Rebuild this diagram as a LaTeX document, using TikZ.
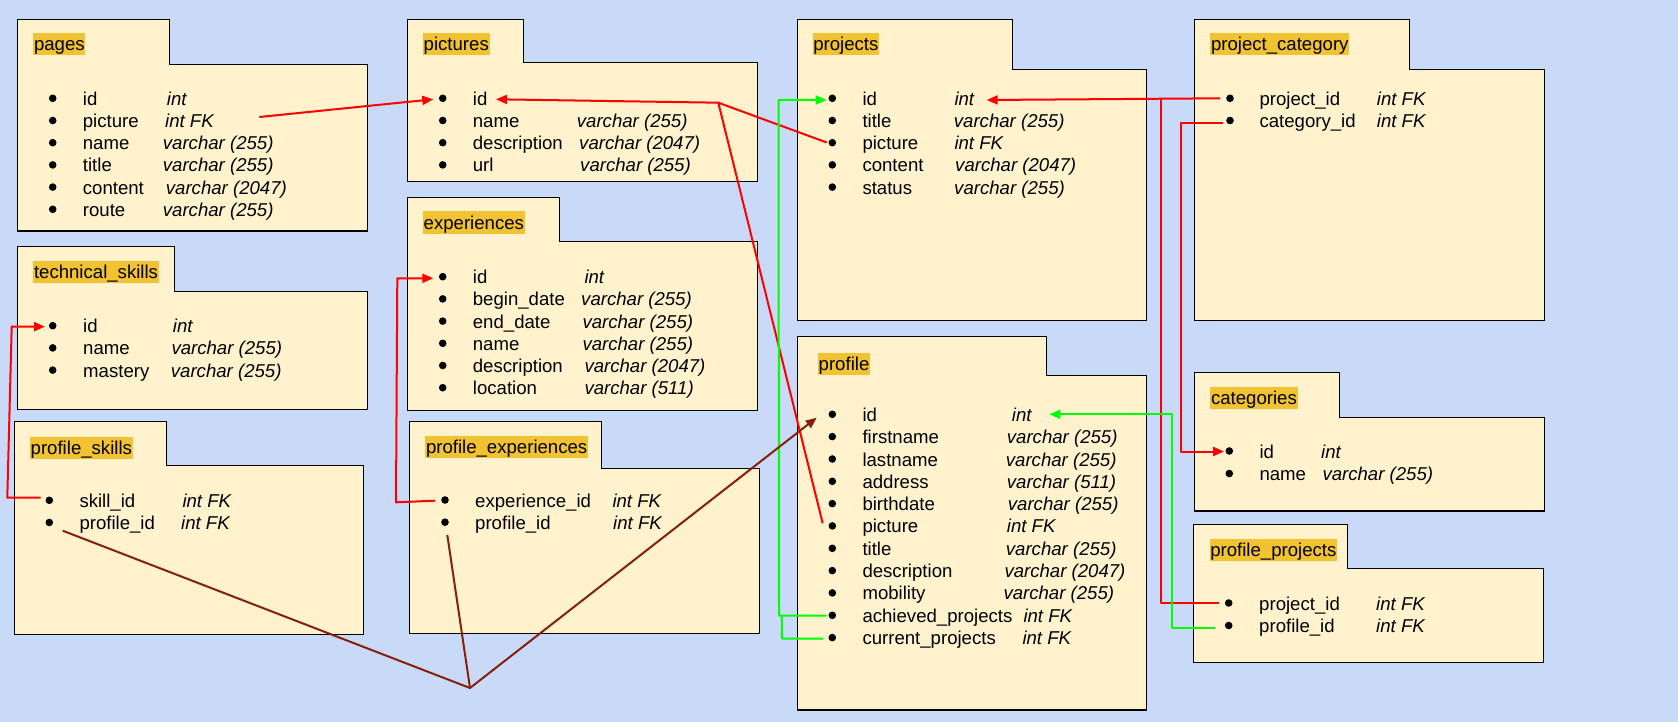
\documentclass[tikz,border=0pt]{standalone}
\usepackage{fontspec}
\setmainfont{Liberation Sans}
\usetikzlibrary{arrows.meta}

\definecolor{bgblue}{HTML}{C9DAF8}
\definecolor{boxfill}{HTML}{FFF2CC}
\definecolor{titlehl}{HTML}{F1C232}
\definecolor{fkred}{HTML}{FF0000}
\definecolor{fkgreen}{HTML}{00FF00}
\definecolor{fkbrown}{HTML}{85200C}

\newcommand{\dbfont}{\fontsize{18.6pt}{22pt}\selectfont}

% folder-shaped table outline: left, top, tab right, tab bottom, right, bottom
\newcommand{\dbtable}[6]{%
  \draw[tablebox] (#1,#2) -- (#3,#2) -- (#3,#4) -- (#5,#4) -- (#5,#6) -- (#1,#6) -- cycle;}
% one column line: name, bullet x, text x, centre y, column, type x, type
\newcommand{\dbrow}[7]{%
  \fill (#2,#4) circle[radius=3.8pt];
  \coordinate (#1) at (#2,#4);
  \node[fieldname] (#1-n) at (#3,#4+7) {#5};
  \node[fieldtype] (#1-t) at (#6,#4+7) {#7};}
% column line without a type
\newcommand{\dbrowbare}[5]{%
  \fill (#2,#4) circle[radius=3.8pt];
  \coordinate (#1) at (#2,#4);
  \node[fieldname] (#1-n) at (#3,#4+7) {#5};}

\tikzset{
  tablebox/.style={draw=black, fill=boxfill, line width=1.3pt, line join=miter},
  tabletitle/.style={anchor=north west, fill=titlehl, inner xsep=0.8pt, inner ysep=0pt,
    text height=17.8pt, text depth=4.2pt, font=\dbfont},
  fieldname/.style={anchor=base west, inner sep=0pt, font=\dbfont},
  fieldtype/.style={anchor=base west, inner sep=0pt, font=\dbfont\itshape},
  link/.style={line width=2pt, line join=round},
  redlink/.style={link, draw=fkred},
  greenlink/.style={link, draw=fkgreen},
  brownlink/.style={link, draw=fkbrown},
  tip/.style={-{Triangle[length=11pt,width=9pt]}},
}

\begin{document}
\begin{tikzpicture}[x=1pt, y=-1pt]
\fill[bgblue] (0,0) rectangle (1678,722);
\useasboundingbox (0,0) rectangle (1678,722);

% ---------------- pages
\dbtable{17.3}{19.3}{169.3}{64.3}{367.7}{231}
\node[tabletitle] (t-pages) at (33,33) {pages};
\dbrow{pg-id}{52.7}{82.7}{98.3}{id}{166.7}{int}
\dbrow{pg-picture}{52.7}{82.7}{120.5}{picture}{165}{int FK}
\dbrow{pg-name}{52.7}{82.7}{142.7}{name}{162.7}{varchar (255)}
\dbrow{pg-title}{52.7}{82.7}{164.9}{title}{162.7}{varchar (255)}
\dbrow{pg-content}{52.7}{82.7}{187.1}{content}{165.7}{varchar (2047)}
\dbrow{pg-route}{52.7}{82.7}{209.3}{route}{162.7}{varchar (255)}

% ---------------- pictures
\dbtable{407.3}{19.3}{523.3}{62.3}{757.7}{181.3}
\node[tabletitle] (t-pictures) at (422.7,33) {pictures};
\dbrowbare{pc-id}{442.7}{472.7}{98.3}{id}
\dbrow{pc-name}{442.7}{472.7}{120.5}{name}{576.7}{varchar (255)}
\dbrow{pc-desc}{442.7}{472.7}{142.7}{description}{579}{varchar (2047)}
\dbrow{pc-url}{442.7}{472.7}{164.9}{url}{580}{varchar (255)}

% ---------------- projects
\dbtable{797.3}{19.3}{1012.3}{69.3}{1146.7}{320.3}
\node[tabletitle] (t-projects) at (812.3,33) {projects};
\dbrow{pj-id}{832.3}{862.3}{98.3}{id}{954.3}{int}
\dbrow{pj-title}{832.3}{862.3}{120.5}{title}{953.7}{varchar (255)}
\dbrow{pj-picture}{832.3}{862.3}{142.7}{picture}{954.3}{int FK}
\dbrow{pj-content}{832.3}{862.3}{164.9}{content}{955}{varchar (2047)}
\dbrow{pj-status}{832.3}{862.3}{187.1}{status}{954}{varchar (255)}

% ---------------- project_category
\dbtable{1194.3}{19.3}{1409.3}{69.3}{1544.7}{320.3}
\node[tabletitle] (t-projcat) at (1210,33) {project\_category};
\dbrow{pc2-project}{1230}{1259.3}{98.3}{project\_id}{1376.7}{int FK}
\dbrow{pc2-category}{1230}{1259.3}{120.5}{category\_id}{1376.7}{int FK}

% ---------------- technical_skills
\dbtable{17.3}{246.3}{174.3}{291.3}{367.3}{409.3}
\node[tabletitle] (t-techskills) at (33,260.7) {technical\_skills};
\dbrow{ts-id}{52.7}{83}{325.7}{id}{172.7}{int}
\dbrow{ts-name}{52.7}{83}{347.9}{name}{171.3}{varchar (255)}
\dbrow{ts-mastery}{52.7}{83}{370.1}{mastery}{170.7}{varchar (255)}

% ---------------- experiences
\dbtable{407.3}{197.3}{559.3}{241.3}{757.3}{410.3}
\node[tabletitle] (t-experiences) at (422.7,211.3) {experiences};
\dbrow{ex-id}{442.7}{472.7}{276.7}{id}{584.3}{int}
\dbrow{ex-begin}{442.7}{472.7}{298.9}{begin\_date}{581}{varchar (255)}
\dbrow{ex-end}{442.7}{472.7}{321.1}{end\_date}{582.3}{varchar (255)}
\dbrow{ex-name}{442.7}{472.7}{343.3}{name}{582.3}{varchar (255)}
\dbrow{ex-desc}{442.7}{472.7}{365.5}{description}{584.3}{varchar (2047)}
\dbrow{ex-location}{442.7}{472.7}{387.7}{location}{584.3}{varchar (511)}

% ---------------- profile_skills
\dbtable{14.3}{421.7}{166.3}{465.3}{363.3}{634.3}
\node[tabletitle] (t-profskills) at (29.7,436.3) {profile\_skills};
\dbrow{ps-skill}{49.3}{79.3}{500.3}{skill\_id}{182.3}{int FK}
\dbrow{ps-profile}{49.3}{79.3}{522.5}{profile\_id}{181}{int FK}

% ---------------- profile_experiences
\dbtable{409.3}{421.3}{601.3}{468.3}{759.3}{633.3}
\node[tabletitle] (t-profexp) at (425,435.3) {profile\_experiences};
\dbrow{pe-exp}{445}{475}{500}{experience\_id}{612.3}{int FK}
\dbrow{pe-profile}{445}{475}{522.2}{profile\_id}{613}{int FK}

% ---------------- profile
\dbtable{797.3}{336.3}{1046.7}{375.3}{1146.7}{710}
\node[tabletitle] (t-profile) at (817.7,352.3) {profile};
\dbrow{pf-id}{832.3}{862.3}{414.3}{id}{1011.7}{int}
\dbrow{pf-first}{832.3}{862.3}{436.6}{firstname}{1006.7}{varchar (255)}
\dbrow{pf-last}{832.3}{862.3}{459.0}{lastname}{1005.7}{varchar (255)}
\dbrow{pf-address}{832.3}{862.3}{481.3}{address}{1006.7}{varchar (511)}
\dbrow{pf-birth}{832.3}{862.3}{503.6}{birthdate}{1007.7}{varchar (255)}
\dbrow{pf-picture}{832.3}{862.3}{525.9}{picture}{1006.7}{int FK}
\dbrow{pf-title}{832.3}{862.3}{548.3}{title}{1005.7}{varchar (255)}
\dbrow{pf-desc}{832.3}{862.3}{570.6}{description}{1004.3}{varchar (2047)}
\dbrow{pf-mobility}{832.3}{862.3}{592.9}{mobility}{1003.3}{varchar (255)}
\dbrow{pf-achieved}{832.3}{862.3}{615.3}{achieved\_projects}{1023.3}{int FK}
\dbrow{pf-current}{832.3}{862.3}{637.6}{current\_projects}{1022.3}{int FK}

% ---------------- categories
\dbtable{1194.3}{372.3}{1339.3}{417.3}{1544.3}{511}
\node[tabletitle] (t-categories) at (1210,386.7) {categories};
\dbrow{ct-id}{1229.3}{1259.3}{451}{id}{1321}{int}
\dbrow{ct-name}{1229.3}{1259.3}{473.5}{name}{1322.3}{varchar (255)}

% ---------------- profile_projects
\dbtable{1193.3}{524.3}{1347.3}{568.3}{1543.3}{662.3}
\node[tabletitle] (t-profproj) at (1209.3,538.7) {profile\_projects};
\dbrow{pp-project}{1228.7}{1259}{603}{project\_id}{1376}{int FK}
\dbrow{pp-profile}{1228.7}{1259}{625.5}{profile\_id}{1376}{int FK}

% ---------------- connector end points
\coordinate (pgpic-out) at (259.3,117);
\coordinate (pcid-inL) at (433.3,99.3);
\coordinate (pcid-inR) at (496,99.3);
\coordinate (picjoin) at (718.3,102.7);
\coordinate (pjpic-out) at (826.7,142.5);
\coordinate (pfpic-out) at (822.7,523.3);
\coordinate (pc2proj-out) at (1220,98.3);
\coordinate (pjid-inR) at (986.7,100);
\coordinate (projjoin) at (1160.5,98.8);
\coordinate (ppproj-out) at (1219.3,603);
\coordinate (pc2cat-out) at (1223.3,122.7);
\coordinate (ctid-in) at (1224,451.5);
\coordinate (ppprof-out) at (1215,628);
\coordinate (pfid-inR) at (1049.3,414.3);
\coordinate (pfach-out) at (826.7,615.5);
\coordinate (pfcur-out) at (823.3,638.5);
\coordinate (pjid-inL) at (826.7,100);
\coordinate (psskill-out) at (40.7,497.7);
\coordinate (tsid-in) at (45,326.7);
\coordinate (peexp-out) at (435,500.7);
\coordinate (exid-in) at (433.3,278.3);
\coordinate (psprof-out) at (62.7,530.7);
\coordinate (peprof-out) at (447.3,535);
\coordinate (profjoin) at (470,688);
\coordinate (pfid-inL) at (816.7,417.7);

% ---------------- foreign keys
\draw[redlink, tip] (pgpic-out) -- (pcid-inL);
\draw[redlink] (pjpic-out) -- (picjoin) -- (pfpic-out);
\draw[redlink, tip] (picjoin) -- (pcid-inR);
\draw[redlink, tip] (pc2proj-out) -- (pjid-inR);
\draw[redlink] (ppproj-out) -| (projjoin);
\draw[redlink, tip] (pc2cat-out) -- ++(-42.3,0) |- (ctid-in);
\draw[greenlink, tip] (ppprof-out) -- ++(-43.5,0) |- (pfid-inR);
\draw[greenlink, tip] (pfach-out) -- ++(-47.7,0) -- ++(-0.5,-515.5) -- (pjid-inL);
\draw[greenlink] (pfcur-out) -- ++(-41.3,0) -- ++(-0.3,-23);
\draw[redlink, tip] (psskill-out) -- ++(-33.4,0) -- ++(4.4,-171.2) -- (tsid-in);
\draw[redlink, tip] (peexp-out) -- ++(-39,1.6) -- ++(1.3,-224) -- (exid-in);
\draw[brownlink] (psprof-out) -- (profjoin) -- (peprof-out);
\draw[brownlink, tip] (profjoin) -- (pfid-inL);
\end{tikzpicture}
\end{document}
